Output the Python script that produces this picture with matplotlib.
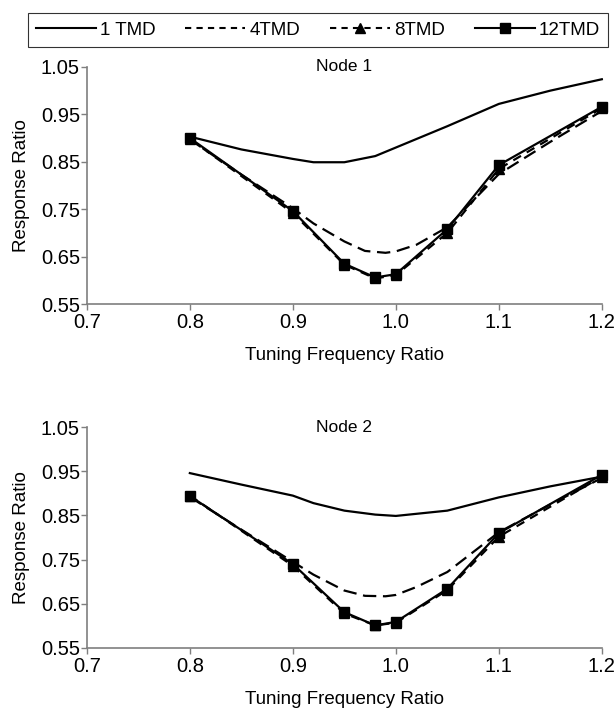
"""
Response ratio vs tuning frequency ratio for 1/4/8/12 TMD, Node 1 and Node 2.
"""

import matplotlib
matplotlib.use("Agg")
import matplotlib.pyplot as plt
from matplotlib.lines import Line2D
from matplotlib.ticker import FormatStrFormatter

plt.rcParams['font.family'] = ['Liberation Sans', 'DejaVu Sans']

# ── data ──
tuning_pts = [0.8, 0.9, 0.95, 0.98, 1.0, 1.05, 1.1, 1.2]

# 1 TMD is drawn as a smooth curve, sampled at more positions
tmd1_x = [0.8, 0.85, 0.9, 0.92, 0.95, 0.98, 1.0, 1.05, 1.1, 1.15, 1.2]
node1_tmd1 = [0.903, 0.876, 0.856, 0.849, 0.849, 0.862, 0.880, 0.925, 0.972, 1.000, 1.024]
node2_tmd1 = [0.946, 0.920, 0.895, 0.878, 0.861, 0.852, 0.849, 0.861, 0.891, 0.916, 0.938]

# 4 TMD also smooth, no markers
tmd4_x = [0.8, 0.85, 0.9, 0.92, 0.95, 0.97, 0.99, 1.0, 1.02, 1.05, 1.1, 1.15, 1.2]
node1_tmd4 = [0.897, 0.823, 0.752, 0.720, 0.682, 0.662, 0.658, 0.661, 0.675, 0.712, 0.824, 0.892, 0.957]
node2_tmd4 = [0.892, 0.818, 0.745, 0.716, 0.680, 0.668, 0.667, 0.670, 0.688, 0.722, 0.812, 0.875, 0.935]

node1_tmd8 = [0.898, 0.742, 0.633, 0.604, 0.611, 0.700, 0.835, 0.963]
node2_tmd8 = [0.895, 0.736, 0.628, 0.601, 0.607, 0.681, 0.802, 0.938]

node1_tmd12 = [0.900, 0.746, 0.635, 0.606, 0.613, 0.708, 0.843, 0.966]
node2_tmd12 = [0.894, 0.740, 0.631, 0.601, 0.609, 0.684, 0.810, 0.942]

x_ticks = [0.7, 0.8, 0.9, 1.0, 1.1, 1.2]
y_ticks = [0.55, 0.65, 0.75, 0.85, 0.95, 1.05]

labels = ["1 TMD", "4TMD", "8TMD", "12TMD"]
GREY = "#7f7f7f"


def draw_node(ax, title, s1, s4, s8, s12):
    ax.plot(tmd1_x, s1, color='black', lw=1.6, ls='-')
    ax.plot(tmd4_x, s4, color='black', lw=1.6, ls=(0, (6, 3)))
    ax.plot(tuning_pts, s8, color='black', lw=1.6, ls=(0, (4, 3)),
            marker='^', ms=7)
    ax.plot(tuning_pts, s12, color='black', lw=1.6, ls='-',
            marker='s', ms=7)

    ax.set_xlim(0.7, 1.2)
    ax.set_ylim(0.55, 1.05)
    ax.set_xticks(x_ticks)
    ax.set_yticks(y_ticks)
    ax.xaxis.set_major_formatter(FormatStrFormatter('%.1f'))
    ax.yaxis.set_major_formatter(FormatStrFormatter('%.2f'))
    ax.tick_params(axis='both', direction='out', length=4, width=1,
                   color=GREY, labelsize=14.5, pad=1)
    ax.tick_params(axis='x', pad=2.5)

    for side in ('top', 'right'):
        ax.spines[side].set_visible(False)
    for side in ('left', 'bottom'):
        ax.spines[side].set_color(GREY)
        ax.spines[side].set_linewidth(1.2)
    for ln in ax.lines:
        ln.set_clip_on(False)

    ax.text(0.5, 1.0, title, transform=ax.transAxes, ha='center',
            va='center', fontsize=12.5)
    ax.set_ylabel("Response Ratio", fontsize=13.5, labelpad=8)
    ax.set_xlabel("Tuning Frequency Ratio", fontsize=13.5, labelpad=11)


def main():
    fig = plt.figure(figsize=(6.16, 7.12), dpi=100)

    ax1 = fig.add_axes([0.141, 0.573, 0.836, 0.333])
    ax2 = fig.add_axes([0.141, 0.090, 0.836, 0.310])

    draw_node(ax1, "Node 1", node1_tmd1, node1_tmd4, node1_tmd8, node1_tmd12)
    draw_node(ax2, "Node 2", node2_tmd1, node2_tmd4, node2_tmd8, node2_tmd12)

    handles = [
        Line2D([], [], color='black', lw=1.5, ls='-'),
        Line2D([], [], color='black', lw=1.5, ls=(0, (3, 2.5))),
        Line2D([], [], color='black', lw=1.5, ls=(0, (3, 2.5)), marker='^', ms=7),
        Line2D([], [], color='black', lw=1.5, ls='-', marker='s', ms=7),
    ]
    leg = fig.legend(handles, labels, ncol=4, loc='lower left',
                     bbox_to_anchor=(0.045, 0.934, 0.942, 0.048),
                     mode='expand', frameon=True, fancybox=False,
                     fontsize=13.5, handlelength=3.2, handletextpad=0.2,
                     borderpad=0.45, borderaxespad=0)
    leg.get_frame().set_edgecolor('black')
    leg.get_frame().set_linewidth(0.8)

    fig.savefig("out.png", dpi=100)


if __name__ == '__main__':
    main()
